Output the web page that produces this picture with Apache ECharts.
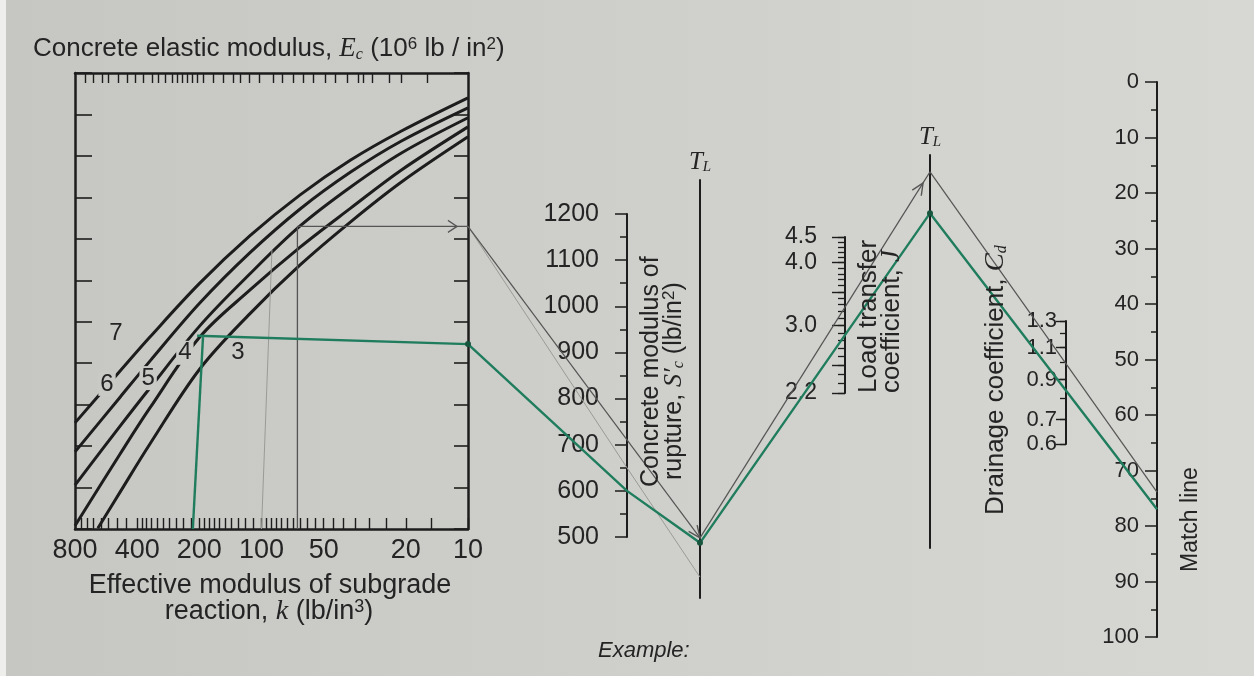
<!DOCTYPE html>
<html>
<head>
<meta charset="utf-8">
<title>Rigid pavement design nomograph</title>
<script src="https://cdn.jsdelivr.net/npm/echarts@6/dist/echarts.min.js"></script>
<style>
  html, body { margin: 0; padding: 0; background: #cfd0cc; }
  #chart { width: 1254px; height: 676px; }
</style>
</head>
<body>
<div id="chart"></div>
<script>

// k scale (lb/in^3), log, running 800 -> 10
const kLabels = [800, 400, 200, 100, 50, 20, 10];
const kTicks = [800, 750, 700, 650, 600, 550, 500, 450, 400, 380, 360, 340, 320, 300, 280, 260, 240, 220, 200,
  190, 180, 170, 160, 150, 140, 130, 120, 110, 100, 95, 90, 85, 80, 75, 70, 65, 60, 55, 50, 45, 40, 35, 30, 25, 20, 15, 10];
// unlabeled tick marks along the top edge (positions given on the k scale)
const topTicks = [716, 654, 592, 554, 495, 448, 410, 375, 339, 317, 293, 271, 257, 243, 229, 217, 205, 192, 172,
  154, 137, 127, 114, 102, 88, 79, 70, 63, 56, 49, 44, 38.5, 34, 32, 29, 24, 21, 15.8];

// Ec curves (10^6 lb/in^2): k values and height on the 0..11 frame scale
const curveK = [800, 484, 347, 199, 114, 65, 37, 21, 10];
const curve3K = [620, 484, 347, 199, 114, 65, 37, 21, 10];
const curve7 = [2.56, 3.81, 4.63, 5.93, 7.07, 8.06, 8.90, 9.60, 10.40];
const curve6 = [1.86, 3.18, 4.05, 5.45, 6.66, 7.72, 8.61, 9.36, 10.16];
const curve5 = [1.06, 2.48, 3.40, 4.90, 6.15, 7.31, 8.25, 9.07, 9.92];
const curve4 = [0.08, 1.81, 2.92, 4.63, 5.76, 6.80, 7.74, 8.66, 9.70];
const curve3 = [0.02, 0.89, 2.05, 3.86, 5.19, 6.37, 7.41, 8.37, 9.46];
const curveNames = ['7', '6', '5', '4', '3'];
const curveLabelK = [507, 560, 354, 235, 130];
const curveLabelY = [4.72, 3.5, 3.64, 4.25, 4.25];

// right-hand scales
const scLabels = [500, 600, 700, 800, 900, 1000, 1100, 1200];
const jLabels = [2.2, 3.0, 4.0, 4.5];
const jTicks = [2.2, 2.3, 2.4, 2.5, 2.6, 2.7, 2.8, 2.9, 3.0, 3.1, 3.2, 3.3, 3.4, 3.5, 3.6, 3.7, 3.8, 3.9, 4.0, 4.1, 4.2, 4.3, 4.4, 4.5];
const jMajor = [2.2, 2.5, 3.0, 3.5, 4.0, 4.5];
const cdLabels = [0.6, 0.7, 0.9, 1.1, 1.3];
const cdTicks = [0.6, 0.7, 0.8, 0.9, 1.0, 1.1, 1.2, 1.3];

// worked example (green) inside the k / Ec frame
const greenRise = [[215, 0], [192, 4.63]];
const greenAcross = [[205, 4.66], [10, 4.46]];
// pencil example inside the frame
const grayRise = [[67, 0], [67, 7.3]];
const grayAcross = [[67, 7.3], [11.9, 7.3], [10, 7.3]];
const faintRise = [[100, 0], [89, 6.73]];

// turning lines across the scales: [scale, value]
const greenPath = [['edge', 4.46], ['Sc', 600], ['TL1', 13.2], ['TL2', 85.2], ['match', 77]];
const grayDown = [['edge', 7.3], ['TL1', 14.4]];
const grayUp = [['TL1', 14.4], ['TL2', 95.7]];
const grayOn = [['TL2', 95.7], ['match', 73.9]];
const faintDown = [['edge', 7.3], ['Sc', 650], ['TL1', 5.0]];

// ---- styling ----
const ink = '#1d1d1d';
const txt = '#242424';
const green = '#1f7d5e';
const pencil = '#555555';
const faint = '#9a9a96';
const sans = "'Liberation Sans', Arial, sans-serif";
const serif = "'Liberation Serif', 'DejaVu Serif', serif";
const gapFill = '#c9cac6';

const chart = echarts.init(document.getElementById('chart'));

function hiddenX(gridIndex) {
  return { gridIndex: gridIndex, type: 'value', min: 0, max: 1, show: false };
}

function line(width) {
  return { show: true, onZero: false, lineStyle: { color: ink, width: width } };
}

const tlName = {
  name: '{t|T}{s|L}',
  nameLocation: 'end',
  nameGap: 5,
  nameTextStyle: {
    rich: {
      t: { fontFamily: serif, fontStyle: 'italic', fontSize: 25, color: txt },
      s: { fontFamily: serif, fontStyle: 'italic', fontSize: 15, color: txt, verticalAlign: 'bottom' }
    }
  }
};

const numFmt = (d) => (v) => Number(v).toFixed(d);

function curveSeries(ks, ys) {
  return {
    type: 'line', xAxisIndex: 0, yAxisIndex: 0, smooth: 0.35, symbol: 'none', silent: true,
    lineStyle: { color: ink, width: 3 },
    data: ks.map((k, i) => [k, ys[i]]),
    z: 3
  };
}

function guide(data, color, width) {
  return {
    type: 'line', xAxisIndex: 0, yAxisIndex: 0, symbol: 'none', silent: true,
    lineStyle: { color: color, width: width },
    data: data, z: 4
  };
}

const arrowItem = {
  symbol: 'path://M0,0L10,6L0,12', symbolSize: [9, 12],
  itemStyle: { color: 'none', borderColor: pencil, borderWidth: 1.4 }
};

const option = {
  animation: false,
  backgroundColor: {
    type: 'linear', x: 0, y: 0, x2: 1, y2: 0,
    colorStops: [{ offset: 0, color: '#c6c7c3' }, { offset: 1, color: '#d7d7d3' }]
  },
  textStyle: { fontFamily: sans },
  grid: [
    { left: 75, top: 73, width: 393, height: 456 },
    { left: 627, top: 214, width: 20, height: 323 },
    { left: 700, top: 180, width: 20, height: 418 },
    { left: 845, top: 237, width: 20, height: 156 },
    { left: 930, top: 155, width: 20, height: 393 },
    { left: 1066, top: 321, width: 20, height: 123 },
    { left: 1157, top: 82, width: 20, height: 555 }
  ].map((g) => Object.assign({ containLabel: false, outerBoundsMode: 'none' }, g)),
  xAxis: [
    {
      gridIndex: 0, type: 'log', logBase: 10, min: 10, max: 800, inverse: true, position: 'bottom',
      axisLine: line(2.5),
      axisTick: { inside: true, length: 11, customValues: kTicks, lineStyle: { color: ink, width: 1.4 } },
      axisLabel: { customValues: kLabels, formatter: (v) => String(v), fontSize: 27, color: txt, margin: 8 },
      splitLine: { show: false }
    },
    {
      gridIndex: 0, type: 'log', logBase: 10, min: 10, max: 800, inverse: true, position: 'top',
      axisLine: line(2.5),
      axisTick: { inside: true, length: 10, customValues: topTicks, lineStyle: { color: ink, width: 1.4 } },
      axisLabel: { show: false },
      splitLine: { show: false }
    },
    hiddenX(1), hiddenX(2), hiddenX(3), hiddenX(4), hiddenX(5), hiddenX(6)
  ],
  yAxis: [
    {
      gridIndex: 0, type: 'value', min: 0, max: 11, interval: 1, position: 'left',
      axisLine: line(2.5),
      axisTick: { inside: true, length: 17, lineStyle: { color: ink, width: 1.6 } },
      axisLabel: { show: false }, splitLine: { show: false }
    },
    {
      gridIndex: 0, type: 'value', min: 0, max: 11, interval: 1, position: 'right',
      axisLine: line(2.5),
      axisTick: { inside: true, length: 14, lineStyle: { color: ink, width: 1.6 } },
      axisLabel: { show: false }, splitLine: { show: false }
    },
    // concrete modulus of rupture
    {
      gridIndex: 1, type: 'value', min: 500, max: 1200, interval: 100, position: 'left',
      axisLine: line(2),
      axisTick: { length: 12, lineStyle: { color: ink, width: 1.5 } },
      minorTick: { show: true, splitNumber: 2, length: 7, lineStyle: { color: ink, width: 1.5 } },
      axisLabel: { customValues: scLabels, formatter: (v) => String(v), fontSize: 25, color: txt, margin: 28 },
      splitLine: { show: false }
    },
    // first turning line
    Object.assign({
      gridIndex: 2, type: 'value', min: 0, max: 100, position: 'left',
      axisLine: line(2), axisTick: { show: false }, axisLabel: { show: false }, splitLine: { show: false }
    }, tlName),
    // load transfer coefficient
    {
      gridIndex: 3, type: 'log', logBase: 10, min: 2.2, max: 4.5, position: 'left',
      axisLine: line(2),
      axisTick: { length: 13, customValues: jMajor, lineStyle: { color: ink, width: 1.4 } },
      axisLabel: { customValues: jLabels, formatter: numFmt(1), fontSize: 23, color: txt, margin: 28 },
      splitLine: { show: false }
    },
    {
      gridIndex: 3, type: 'log', logBase: 10, min: 2.2, max: 4.5, position: 'left',
      axisLine: { show: false },
      axisTick: { length: 7, customValues: jTicks, lineStyle: { color: ink, width: 1.3 } },
      axisLabel: { show: false }, splitLine: { show: false }
    },
    // second turning line
    Object.assign({
      gridIndex: 4, type: 'value', min: 0, max: 100, position: 'left',
      axisLine: line(2), axisTick: { show: false }, axisLabel: { show: false }, splitLine: { show: false }
    }, tlName),
    // drainage coefficient
    {
      gridIndex: 5, type: 'log', logBase: 10, min: 0.6, max: 1.3, position: 'left',
      axisLine: line(2),
      axisTick: { length: 10, customValues: cdLabels, lineStyle: { color: ink, width: 1.4 } },
      axisLabel: { customValues: cdLabels, formatter: numFmt(1), fontSize: 22, color: txt, margin: 9 },
      splitLine: { show: false }
    },
    {
      gridIndex: 5, type: 'log', logBase: 10, min: 0.6, max: 1.3, position: 'left',
      axisLine: { show: false },
      axisTick: { length: 6, customValues: cdTicks, lineStyle: { color: ink, width: 1.3 } },
      axisLabel: { show: false }, splitLine: { show: false }
    },
    // match line
    {
      gridIndex: 6, type: 'value', min: 0, max: 100, interval: 10, inverse: true, position: 'left',
      axisLine: line(2),
      axisTick: { length: 12, lineStyle: { color: ink, width: 1.5 } },
      minorTick: { show: true, splitNumber: 2, length: 6, lineStyle: { color: ink, width: 1.5 } },
      axisLabel: { formatter: (v) => String(v), fontSize: 22, color: txt, margin: 18 },
      splitLine: { show: false }
    }
  ],
  series: [
    curveSeries(curveK, curve7),
    curveSeries(curveK, curve6),
    curveSeries(curveK, curve5),
    curveSeries(curveK, curve4),
    curveSeries(curve3K, curve3),
    guide(faintRise, faint, 1),
    guide(grayRise, pencil, 1.3),
    Object.assign(guide(grayAcross.map((p, i) => i === 1 ? Object.assign({ value: p }, arrowItem) : p), pencil, 1.1), { showSymbol: true }),
    guide(greenRise, green, 2.4),
    guide(greenAcross, green, 2.4),
    {
      type: 'scatter', xAxisIndex: 0, yAxisIndex: 0, symbolSize: 6, silent: true, z: 7,
      itemStyle: { color: '#17553f', opacity: 1 },
      data: [greenAcross[1]]
    }
  ]
};

chart.setOption(option);

// where each scale sits, through the library's own axes
const scales = {
  edge: { finder: { xAxisIndex: 0, yAxisIndex: 0 }, at: (v) => [10, v] },
  Sc: { finder: { xAxisIndex: 2, yAxisIndex: 2 }, at: (v) => [0, v] },
  TL1: { finder: { xAxisIndex: 3, yAxisIndex: 3 }, at: (v) => [0, v] },
  J: { finder: { xAxisIndex: 4, yAxisIndex: 4 }, at: (v) => [0, v] },
  TL2: { finder: { xAxisIndex: 5, yAxisIndex: 6 }, at: (v) => [0, v] },
  Cd: { finder: { xAxisIndex: 6, yAxisIndex: 7 }, at: (v) => [0, v] },
  match: { finder: { xAxisIndex: 7, yAxisIndex: 9 }, at: (v) => [0, v] }
};

function toPixels(path) {
  return path.map(([name, v]) => chart.convertToPixel(scales[name].finder, scales[name].at(v)));
}

function polyline(points, color, width, z) {
  return { type: 'polyline', silent: true, z: z || 5, shape: { points: points }, style: { stroke: color, lineWidth: width, fill: null } };
}

// open arrow head with its tip at `tip`, opening back towards `from`
function chevron(tip, from, len, color) {
  const dx = from[0] - tip[0], dy = from[1] - tip[1];
  const d = Math.hypot(dx, dy), ux = dx / d, uy = dy / d, a = 0.42;
  const side = (s) => [tip[0] + len * (ux * Math.cos(s) - uy * Math.sin(s)), tip[1] + len * (ux * Math.sin(s) + uy * Math.cos(s))];
  return polyline([side(a), tip, side(-a)], color, 1.4, 8);
}

function backOff(p, from, dist) {
  const dx = from[0] - p[0], dy = from[1] - p[1], d = Math.hypot(dx, dy);
  return [p[0] + dx / d * dist, p[1] + dy / d * dist];
}

function text(x, y, str, size, opts) {
  return Object.assign({
    type: 'text', x: x, y: y, silent: true, z: 10,
    style: Object.assign({
      text: str, fill: txt, fontFamily: sans, fontSize: size,
      align: 'left', verticalAlign: 'middle', textAlign: 'left', textVerticalAlign: 'middle'
    }, opts && opts.style)
  }, opts && opts.el);
}

function upText(x, y, str, size, rich) {
  return text(x, y, str, size, { el: { rotation: Math.PI / 2 }, style: { rich: rich } });
}

function scripts(size) {
  return {
    it: { fontFamily: serif, fontStyle: 'italic', fontSize: size + 1, fill: txt },
    sub: { fontFamily: serif, fontStyle: 'italic', fontSize: Math.round(size * 0.62), fill: txt, verticalAlign: 'bottom' },
    sup: { fontFamily: sans, fontSize: Math.round(size * 0.66), fill: txt, verticalAlign: 'top' }
  };
}

const g = [];
g.push({ type: 'rect', silent: true, z: 1, shape: { x: 0, y: 0, width: 6, height: 676 }, style: { fill: '#eeeeec' } });

// curve numbers; the middle ones sit in breaks of their curves
curveNames.forEach((n, i) => {
  const p = chart.convertToPixel(scales.edge.finder, [curveLabelK[i], curveLabelY[i]]);
  const gap = i >= 1 && i <= 3;
  g.push(text(p[0], p[1], n, 24, {
    style: Object.assign({ align: 'center', textAlign: 'center' },
      gap ? { backgroundColor: gapFill, padding: [0, 2] } : {})
  }));
});

const greenPx = toPixels(greenPath);
const faintPx = toPixels(faintDown);
const downPx = toPixels(grayDown);
const upPx = toPixels(grayUp);
const onPx = toPixels(grayOn);

g.push(polyline(faintPx, faint, 1));
g.push(polyline(downPx, pencil, 1.2));
g.push(chevron(downPx[1], downPx[0], 13, pencil));
g.push(polyline(upPx, pencil, 1.2));
g.push(chevron(backOff(upPx[1], upPx[0], 13), upPx[0], 13, pencil));
g.push(polyline(onPx, pencil, 1.2));
g.push(polyline(greenPx, green, 2.4, 6));
[greenPx[2], greenPx[3]].forEach((p) => g.push({
  type: 'circle', silent: true, z: 7, shape: { cx: p[0], cy: p[1], r: 3 }, style: { fill: '#17553f' }
}));

// titles and scale names
g.push(text(33, 49, 'Concrete elastic modulus, {it|E}{sub|c} (10{sup|6} lb / in{sup|2})', 26, { style: { rich: scripts(26) } }));
g.push(text(270, 586, 'Effective modulus of subgrade', 27, { style: { align: 'center', textAlign: 'center' } }));
g.push(text(269, 612, 'reaction, {it|k} (lb/in{sup|3})', 27, { style: { align: 'center', textAlign: 'center', rich: scripts(27) } }));
g.push(upText(651, 487, 'Concrete modulus of', 25));
g.push(upText(674, 480, "rupture, {it|S′}{sub|c} (lb/in{sup|2})", 25, scripts(25)));
g.push(upText(869, 393, 'Load transfer', 26));
g.push(upText(892, 393, 'coefficient, {it|J}', 26, scripts(26)));
g.push(upText(996, 515, 'Drainage coefficient, {it|C}{sub|d}', 26, scripts(26)));
g.push(upText(1191, 572, 'Match line', 23));
g.push(text(598, 651, 'Example:', 22, { style: { fontStyle: 'italic' } }));

chart.setOption({ graphic: g });
</script>
</body>
</html>
